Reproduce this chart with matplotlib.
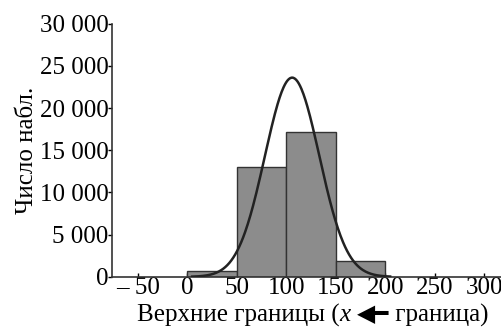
import numpy as np
import matplotlib.pyplot as plt
from matplotlib.offsetbox import TextArea, HPacker, AnnotationBbox

# Histogram data (bins by upper bound)
bin_left = [0, 50, 100, 150]
bin_width = 50
counts = [700, 13000, 17200, 1900]

# Fitted normal curve parameters
curve_mean = 106
curve_sd = 27.5
curve_peak = 23600
curve_from, curve_to = 5, 205

x_ticks = [-50, 0, 50, 100, 150, 200, 250, 300]
x_ticklabels = ["– 50", "0", "50", "100", "150", "200", "250", "300"]
y_ticks = [0, 5000, 10000, 15000, 20000, 25000, 30000]
y_ticklabels = ["0", "5 000", "10 000", "15 000", "20 000", "25 000", "30 000"]

serif = ["Liberation Serif", "DejaVu Serif"]
plt.rcParams["font.family"] = serif
fs = 18

fig = plt.figure(figsize=(5.01, 3.28), dpi=100)
ax = fig.add_axes([0.2245, 0.156, 0.7755, 0.772])

ax.bar(bin_left, counts, width=bin_width, align="edge",
       color="#8c8c8c", edgecolor="#333333", linewidth=1.0, zorder=2)

xs = np.linspace(curve_from, curve_to, 300)
ys = curve_peak * np.exp(-0.5 * ((xs - curve_mean) / curve_sd) ** 2)
ax.plot(xs, ys, color="#222222", linewidth=1.8, zorder=3)

ax.set_xlim(-75.5, 317)
ax.set_ylim(0, 30000)

ax.set_xticks(x_ticks)
ax.set_xticklabels(x_ticklabels)
ax.set_yticks(y_ticks)
ax.set_yticklabels(y_ticklabels)

ax.tick_params(axis="x", direction="in", length=3, width=1, labelsize=fs, pad=0)
ax.tick_params(axis="y", direction="out", length=3, width=1, labelsize=fs, pad=0)

for s in ["top", "right"]:
    ax.spines[s].set_visible(False)
for s in ["left", "bottom"]:
    ax.spines[s].set_linewidth(1.2)
    ax.spines[s].set_color("#333333")

ax.set_ylabel("Число набл.", fontsize=fs, labelpad=1)

# x label with italic x and arrow
props = dict(fontsize=fs, family=serif, color="black")
parts = [
    TextArea("Верхние границы (", textprops=props),
    TextArea("x", textprops=dict(props, style="italic")),
    TextArea(" ", textprops=props),
    TextArea("◀━", textprops=dict(fontsize=17, family=["DejaVu Sans"], color="black")),
    TextArea(" граница)", textprops=props),
]
box = HPacker(children=parts, align="baseline", pad=0, sep=0)
ab = AnnotationBbox(box, (0.624, 0.004), xycoords="figure fraction",
                    box_alignment=(0.5, 0.0), frameon=False)
fig.add_artist(ab)

fig.savefig("out.png", dpi=100)
